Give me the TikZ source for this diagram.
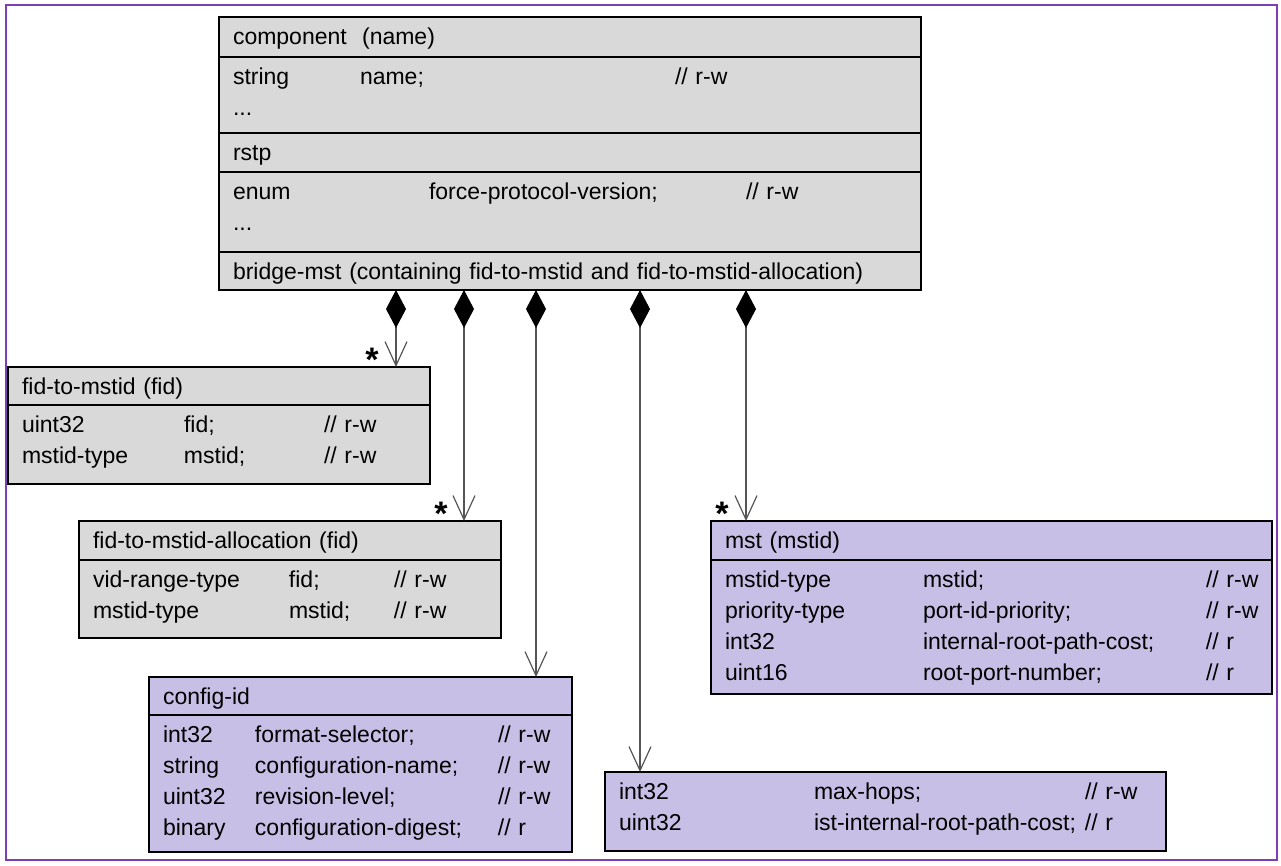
\documentclass[tikz,border=0pt]{standalone}
\usepackage{fontspec}
\setmainfont{Liberation Sans}
\usetikzlibrary{arrows.meta,positioning}
\definecolor{umlgray}{RGB}{217,217,217}
\definecolor{umllilac}{RGB}{199,191,229}
\definecolor{framepurple}{RGB}{126,63,180}
\definecolor{linkgray}{RGB}{85,85,85}
\setlength{\tabcolsep}{0pt}
\newcommand{\umlfont}{\fontsize{23}{31}\selectfont}

\begin{document}
\begin{tikzpicture}[x=1pt, y=-1pt, umlpart/.style = {shape=rectangle, draw, line width=2.6pt, anchor=north west, align=left, inner xsep=14pt, inner ysep=0pt, outer sep=0pt, text height=27pt, text depth=#1, font=\umlfont}, grayfill/.style = {fill=umlgray}, lilacfill/.style = {fill=umllilac}, assoc/.style = {draw=linkgray, line width=1.2pt, arrows={Diamond[length=38pt,width=20pt,color=black]-Straight Barb[length=24pt,width=22pt]}}, mult/.style = {anchor=base, inner sep=0pt, font=\fontsize{34}{34}\selectfont\bfseries}]
	\useasboundingbox (0,0) rectangle (1281,865);
	\draw[draw=framepurple, line width=2.5pt] (6,5) rectangle (1277,860);
	% component with its rstp part
	\node[umlpart=13pt, grayfill, text width=674pt] (compHead) at (219,17) {component\ \ (name)};
	\node[umlpart=49pt, grayfill, text width=674pt] (compAttr) at (compHead.south west) {\begin{tabular}[t]{@{}p{127pt}p{315pt}l@{}}string & name; & // r-w\\ ... & & \end{tabular}};
	\node[umlpart=12pt, grayfill, text width=674pt] (rstpHead) at (compAttr.south west) {rstp};
	\node[umlpart=53pt, grayfill, text width=674pt] (rstpAttr) at (rstpHead.south west) {\begin{tabular}[t]{@{}p{196pt}p{317pt}l@{}}enum & force-protocol-version; & // r-w\\ ... & & \end{tabular}};
	\node[umlpart=11pt, grayfill, text width=674pt] (bridgeMst) at (rstpAttr.south west) {bridge-mst (containing fid-to-mstid and fid-to-mstid-allocation)};
	% fid tables
	\node[umlpart=11pt, grayfill, text width=394pt] (fidMapHead) at (8,367) {fid-to-mstid (fid)};
	\node[umlpart=52pt, grayfill, text width=394pt] (fidMapAttr) at (fidMapHead.south west) {\begin{tabular}[t]{@{}p{162pt}p{140pt}l@{}}uint32 & fid; & // r-w\\ mstid-type & mstid; & // r-w\end{tabular}};
	\node[umlpart=12pt, grayfill, text width=394pt] (fidAllocHead) at (79,521) {fid-to-mstid-allocation (fid)};
	\node[umlpart=51pt, grayfill, text width=394pt] (fidAllocAttr) at (fidAllocHead.south west) {\begin{tabular}[t]{@{}p{196pt}p{105pt}l@{}}vid-range-type & fid; & // r-w\\ mstid-type & mstid; & // r-w\end{tabular}};
	% mst parts
	\node[umlpart=11pt, lilacfill, text width=395pt] (configHead) at (149,677) {config-id};
	\node[umlpart=110pt, lilacfill, text width=395pt] (configAttr) at (configHead.south west) {\begin{tabular}[t]{@{}p{92pt}p{243pt}l@{}}int32 & format-selector; & // r-w\\ string & configuration-name; & // r-w\\ uint32 & revision-level; & // r-w\\ binary & configuration-digest; & // r\end{tabular}};
	\node[umlpart=12pt, lilacfill, text width=533pt] (mstHead) at (711,521) {mst (mstid)};
	\node[umlpart=107pt, lilacfill, text width=533pt] (mstAttr) at (mstHead.south west) {\begin{tabular}[t]{@{}p{198pt}p{283pt}l@{}}mstid-type & mstid; & // r-w\\ priority-type & port-id-priority; & // r-w\\ int32 & internal-root-path-cost; & // r\\ uint16 & root-port-number; & // r\end{tabular}};
	\node[umlpart=52pt, lilacfill, text width=533pt] (hopsAttr) at (605,772) {\begin{tabular}[t]{@{}p{195pt}p{271pt}l@{}}int32 & max-hops; & // r-w\\ uint32 & ist-internal-root-path-cost; & // r\end{tabular}};
	% compositions
	\coordinate (d1) at (396,290);
	\coordinate (d2) at (464,290);
	\coordinate (d3) at (536,290);
	\coordinate (d4) at (640,290);
	\coordinate (d5) at (746,290);
	\draw[assoc] (d1) -- (d1 |- fidMapHead.north) node[mult, at end, xshift=-24pt, yshift=-4pt] (m1) {*};
	\draw[assoc] (d2) -- (d2 |- fidAllocHead.north) node[mult, at end, xshift=-23pt, yshift=-4pt] (m2) {*};
	\draw[assoc] (d3) -- (d3 |- configHead.north);
	\draw[assoc] (d4) -- (d4 |- hopsAttr.north);
	\draw[assoc] (d5) -- (d5 |- mstHead.north) node[mult, at end, xshift=-24pt, yshift=-4pt] (m3) {*};
\end{tikzpicture}
\end{document}
